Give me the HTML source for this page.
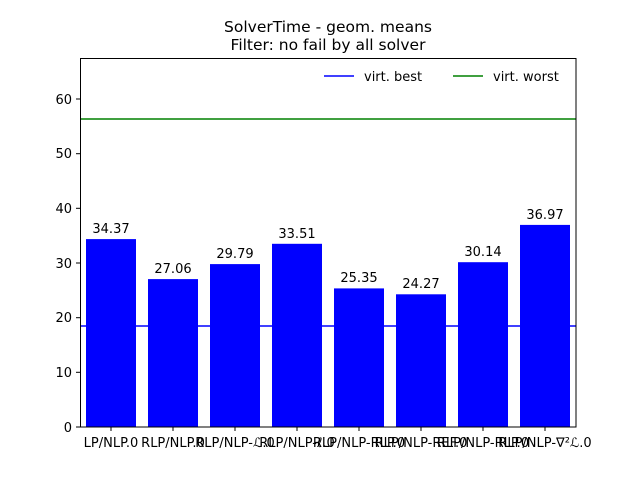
<!DOCTYPE html>
<html><head><meta charset="utf-8"><style>body{margin:0;background:#fff}</style></head><body>
<svg width="640" height="480" xmlns="http://www.w3.org/2000/svg" font-family="DejaVu Sans, Liberation Sans, sans-serif">
<rect width="640" height="480" fill="#fff"/>
<text x="328" y="32" font-size="15.5" text-anchor="middle">SolverTime - geom. means</text>
<text x="328" y="50" font-size="15.5" text-anchor="middle">Filter: no fail by all solver</text>
<g fill="#0000ff">
<rect x="86" y="239.1" width="50" height="187.9"/>
<rect x="148" y="279.1" width="50" height="147.9"/>
<rect x="210" y="264.1" width="50" height="162.9"/>
<rect x="272" y="243.8" width="50" height="183.2"/>
<rect x="334" y="288.4" width="50" height="138.6"/>
<rect x="396" y="294.3" width="50" height="132.7"/>
<rect x="458" y="262.2" width="50" height="164.8"/>
<rect x="520" y="224.9" width="50" height="202.1"/>
</g>
<g font-size="13" text-anchor="middle">
<text x="111" y="233">34.37</text><text x="173" y="273">27.06</text><text x="235" y="258">29.79</text><text x="297" y="238">33.51</text><text x="359" y="282">25.35</text><text x="421" y="288">24.27</text><text x="483" y="256">30.14</text><text x="545" y="219">36.97</text>
</g>
<line x1="80" y1="326" x2="576" y2="326" stroke="#0000ff" stroke-width="1.5"/>
<line x1="80" y1="119" x2="576" y2="119" stroke="#008000" stroke-width="1.5"/>
<rect x="80.5" y="58.5" width="495.5" height="368.5" fill="none" stroke="#000" stroke-width="1"/>
<g stroke="#000">
<line x1="76" y1="427" x2="80" y2="427"/><line x1="76" y1="372.3" x2="80" y2="372.3"/><line x1="76" y1="317.7" x2="80" y2="317.7"/><line x1="76" y1="263" x2="80" y2="263"/><line x1="76" y1="208.3" x2="80" y2="208.3"/><line x1="76" y1="153.7" x2="80" y2="153.7"/><line x1="76" y1="99" x2="80" y2="99"/>
<line x1="111" y1="427" x2="111" y2="431"/><line x1="173" y1="427" x2="173" y2="431"/><line x1="235" y1="427" x2="235" y2="431"/><line x1="297" y1="427" x2="297" y2="431"/><line x1="359" y1="427" x2="359" y2="431"/><line x1="421" y1="427" x2="421" y2="431"/><line x1="483" y1="427" x2="483" y2="431"/><line x1="545" y1="427" x2="545" y2="431"/>
</g>
<g font-size="13" text-anchor="end">
<text x="72" y="432">0</text><text x="72" y="377">10</text><text x="72" y="322">20</text><text x="72" y="268">30</text><text x="72" y="213">40</text><text x="72" y="158">50</text><text x="72" y="104">60</text>
</g>
<g font-size="13" text-anchor="middle">
<text x="111" y="447">LP/NLP.0</text><text x="173" y="447">RLP/NLP.0</text><text x="235" y="447">RLP/NLP-ℒ.0</text><text x="297" y="447">RLP/NLP-ℓ.0</text><text x="359" y="447">RLP/NLP-RLP.0</text><text x="421" y="447">RLP/NLP-REF.0</text><text x="483" y="447">RLP/NLP-RLP.0</text><text x="545" y="447">RLP/NLP-∇²ℒ.0</text>
</g>
<line x1="324" y1="76" x2="354" y2="76" stroke="#0000ff" stroke-width="1.5"/>
<text x="364" y="81" font-size="13">virt. best</text>
<line x1="453" y1="76" x2="483" y2="76" stroke="#008000" stroke-width="1.5"/>
<text x="493" y="81" font-size="13">virt. worst</text>
</svg>
</body></html>
